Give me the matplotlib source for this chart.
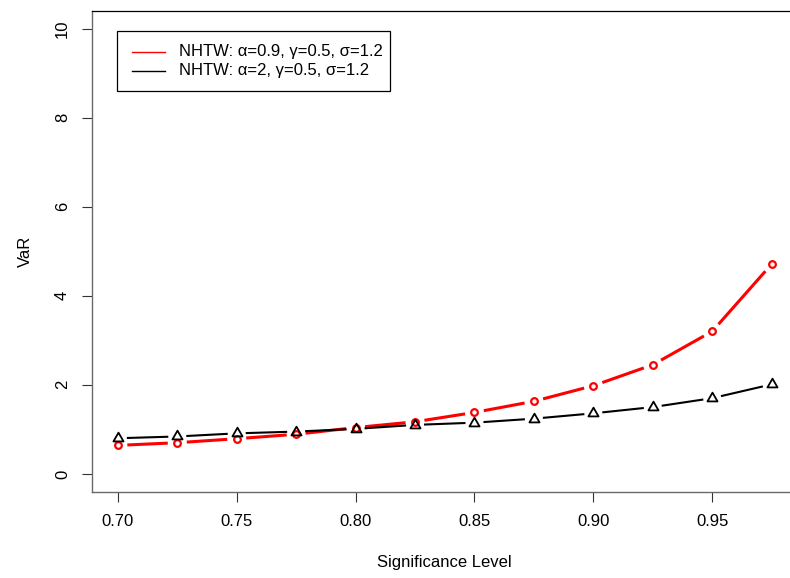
import numpy as np
import matplotlib
matplotlib.use("Agg")
import matplotlib.pyplot as plt
from matplotlib.path import Path
from matplotlib.patches import Rectangle
from matplotlib.lines import Line2D

plt.rcParams['font.family'] = ['Liberation Sans', 'DejaVu Sans']
plt.rcParams['font.size'] = 12

# Significance levels and VaR estimates for the two NHTW parameter sets
levels = [0.700, 0.725, 0.750, 0.775, 0.800, 0.825, 0.850, 0.875, 0.900, 0.925, 0.950, 0.975]
var_alpha09 = [0.64, 0.70, 0.79, 0.89, 1.04, 1.17, 1.38, 1.63, 1.98, 2.45, 3.20, 4.71]
var_alpha2 = [0.80, 0.84, 0.91, 0.95, 1.01, 1.10, 1.15, 1.24, 1.36, 1.50, 1.70, 2.01]

labels = ["NHTW: α=0.9, γ=0.5, σ=1.2", "NHTW: α=2, γ=0.5, σ=1.2"]
legend_colors = ["red", "black"]
x_ticks = [0.70, 0.75, 0.80, 0.85, 0.90, 0.95]
x_tick_labels = ["0.70", "0.75", "0.80", "0.85", "0.90", "0.95"]
y_ticks = [0, 2, 4, 6, 8, 10]

W, H, DPI = 790, 578, 100
fig = plt.figure(figsize=(W / DPI, H / DPI), dpi=DPI)
ax_left, ax_right, ax_top, ax_bottom = 91.7, 797.8, 10.7, 491.7
ax = fig.add_axes([ax_left / W, 1 - ax_bottom / H,
                   (ax_right - ax_left) / W, (ax_bottom - ax_top) / H])

# base-R style 4% padding around the data range
xmin, xmax = min(levels), max(levels)
xpad = 0.04 * (xmax - xmin)
ax.set_xlim(xmin - xpad, xmax + xpad)
ax.set_ylim(-0.4, 10.4)

# equilateral triangle (centroid-centred), like pch = 2
h = np.sqrt(3)
tri = Path([(-1, -h / 3), (1, -h / 3), (0, 2 * h / 3), (-1, -h / 3)],
           [Path.MOVETO, Path.LINETO, Path.LINETO, Path.CLOSEPOLY])


def gapped_line(xs, ys, gap_px, **kw):
    """Draw segments between consecutive points, leaving a gap around each point."""
    pts = ax.transData.transform(np.column_stack([xs, ys]))
    inv = ax.transData.inverted()
    for p0, p1 in zip(pts[:-1], pts[1:]):
        d = p1 - p0
        L = np.hypot(*d)
        if L <= 2 * gap_px:
            continue
        u = d / L
        a = inv.transform(p0 + u * gap_px)
        b = inv.transform(p1 - u * gap_px)
        ax.plot([a[0], b[0]], [a[1], b[1]], solid_capstyle='butt', **kw)


gapped_line(levels, var_alpha09, 9.5, color='red', lw=2.2)
ax.plot(levels, var_alpha09, linestyle='none', marker='o', ms=4.8,
        mfc='none', mec='red', mew=1.6)

gapped_line(levels, var_alpha2, 9.0, color='black', lw=1.5)
ax.plot(levels, var_alpha2, linestyle='none', marker=tri, ms=8.4,
        mfc='none', mec='black', mew=1.3)

ax.set_xticks(x_ticks)
ax.set_xticklabels(x_tick_labels)
ax.set_yticks(y_ticks)
ax.set_yticklabels([str(v) for v in y_ticks], rotation=90, va='center')
ax.tick_params(axis='both', direction='out', length=7.2, width=0.8,
               color='#333333', labelsize=12, pad=8.5)

ax.spines['right'].set_visible(False)
ax.spines['top'].set_color('black')
ax.spines['top'].set_linewidth(0.9)
for s in ('left', 'bottom'):
    ax.spines[s].set_color('#6a6a6a')
    ax.spines[s].set_linewidth(1.0)

ax.set_xlabel("Significance Level", fontsize=12)
ax.set_ylabel("VaR", fontsize=12)
ax.xaxis.set_label_coords(0.5, -0.131)
ax.yaxis.set_label_coords(-0.0838, 0.5)


# legend box drawn in figure pixel coordinates (origin top-left)
def fx(px):
    return px / W


def fy(py):
    return 1 - py / H


box_l, box_t, box_r, box_b = 117, 31, 390, 91
fig.add_artist(Rectangle((fx(box_l), fy(box_b)), fx(box_r) - fx(box_l),
                         fy(box_t) - fy(box_b), transform=fig.transFigure,
                         facecolor='white', edgecolor='black', lw=0.9, zorder=5))
row_y = [51.7, 70.7]
for yy, lab, col in zip(row_y, labels, legend_colors):
    fig.add_artist(Line2D([fx(132), fx(165)], [fy(yy), fy(yy)],
                          transform=fig.transFigure, color=col, lw=1.0, zorder=6))
    fig.text(fx(179), fy(yy), lab, ha='left', va='center', fontsize=12, zorder=6)

fig.savefig("out.png", dpi=DPI)
